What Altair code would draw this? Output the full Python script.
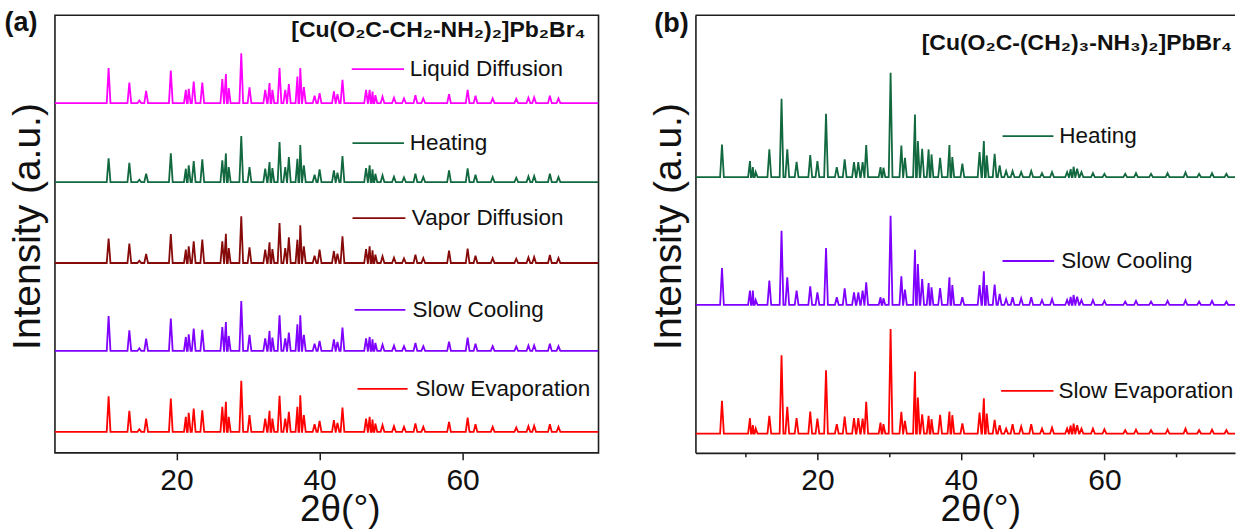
import altair as alt
import pandas as pd

# ---------------- data ----------------
# Panel (a): [Cu(O2C-CH2-NH2)2]Pb2Br4  -- peak positions (2theta, deg)
A_POS = [10.5, 13.4, 14.8, 15.75, 19.2, 21.3, 21.7, 22.4, 23.6, 26.4, 26.9, 27.3,
         29.05, 30.2, 32.4, 33.0, 33.4, 34.4, 35.2, 35.7, 36.9, 37.3, 37.8, 39.3,
         40.0, 42.0, 42.5, 43.2, 46.5, 47.0, 47.4, 47.8, 48.8, 50.4, 51.8, 53.4,
         54.5, 58.1, 60.7, 61.8, 64.2, 67.5, 69.2, 70.0, 72.2, 73.4]
A_SE = [107, 63, 8, 40, 100, 45, 57, 70, 65, 75, 90, 45, 153, 50, 40, 63, 40, 108, 40, 60, 75, 110, 50, 23,
        33, 35, 27, 73, 40, 45, 37, 25, 20, 17, 15, 25, 15, 30, 43, 23, 15, 13, 17, 18, 23, 15]
A_SC = [105, 62, 8, 37, 97, 42, 50, 67, 63, 72, 87, 45, 150, 48, 38, 60, 40, 107, 38, 55, 80, 107, 48, 22,
        30, 35, 27, 70, 38, 42, 35, 24, 19, 16, 14, 24, 14, 28, 40, 22, 14, 13, 16, 17, 22, 14]
A_VD = [73, 58, 7, 27, 87, 40, 50, 65, 70, 65, 88, 45, 140, 47, 40, 62, 42, 120, 45, 77, 70, 113, 50, 22,
        40, 36, 28, 80, 42, 50, 38, 25, 20, 16, 14, 25, 15, 37, 43, 22, 15, 13, 17, 18, 24, 15]
A_H = [71, 58, 7, 25, 86, 40, 50, 63, 68, 65, 86, 45, 138, 45, 40, 60, 42, 120, 45, 75, 70, 111, 50, 22,
       38, 35, 28, 78, 42, 50, 38, 25, 20, 16, 14, 25, 15, 35, 41, 22, 15, 13, 17, 18, 25, 15]
A_LD = [105, 62, 8, 37, 98, 40, 43, 65, 62, 72, 87, 45, 150, 47, 40, 60, 40, 105, 40, 57, 80, 105, 48, 22,
        30, 35, 27, 70, 40, 40, 35, 24, 19, 16, 14, 24, 14, 27, 40, 22, 14, 13, 16, 17, 22, 14]
A_SERIES = ["Slow Evaporation", "Slow Cooling", "Vapor Diffusion", "Heating", "Liquid Diffusion"]
A_HEIGHTS = [A_SE, A_SC, A_VD, A_H, A_LD]
A_OFFSET = [63, 306, 570, 813, 1050]

# Panel (b): [Cu(O2C-(CH2)3-NH3)2]PbBr4
B_POS = [6.7, 10.6, 11.0, 11.4, 13.3, 15.0, 15.8, 17.1, 19.0, 20.0, 21.2, 22.7, 23.8, 25.1,
         25.7, 26.3, 26.8, 28.8, 29.2, 30.2, 31.7, 32.2, 33.6, 34.0, 34.6, 35.5, 35.9, 37.1,
         38.4, 38.8, 40.2, 42.6, 43.2, 43.6, 44.7, 45.4, 46.3, 47.2, 48.4, 49.8, 51.3, 52.7,
         54.8, 55.3, 55.7, 56.2, 56.8, 58.4, 60.0, 62.9, 64.4, 66.5, 68.8, 71.3, 73.2, 75.0, 77.0]
B_SE = [98, 46, 25, 15, 53, 235, 80, 46, 66, 45, 190, 28, 51, 46, 46, 45, 95, 33, 28, 314, 65, 38, 186, 108,
        58, 53, 43, 56, 66, 55, 30, 63, 106, 60, 41, 25, 15, 28, 21, 28, 15, 18, 15, 24, 30, 25, 15, 15,
        13, 10, 12, 10, 12, 15, 10, 12, 10]
B_SC = [111, 43, 43, 15, 73, 223, 83, 43, 56, 38, 171, 23, 50, 38, 38, 43, 68, 23, 20, 268, 86, 46, 166, 123,
        78, 66, 53, 51, 83, 60, 23, 60, 101, 60, 61, 33, 18, 23, 20, 23, 15, 18, 15, 24, 30, 25, 15, 15,
        12, 10, 12, 10, 12, 14, 10, 12, 10]
B_H = [98, 48, 30, 15, 83, 235, 83, 46, 66, 48, 190, 30, 53, 45, 45, 45, 96, 30, 28, 313, 95, 58, 188, 108,
       85, 83, 68, 58, 96, 60, 40, 75, 108, 65, 70, 35, 18, 18, 15, 18, 12, 15, 15, 24, 31, 25, 15, 12,
       10, 10, 12, 10, 12, 14, 10, 12, 10]
B_SERIES = ["Slow Evaporation", "Slow Cooling", "Heating"]
B_HEIGHTS = [B_SE, B_SC, B_H]
B_OFFSET = [58, 444, 828]

COLOR_DOMAIN = ["Slow Evaporation", "Slow Cooling", "Vapor Diffusion", "Heating", "Liquid Diffusion"]
COLOR_RANGE = ["#ff0000", "#7f00ff", "#870a0a", "#12693f", "#ff00ff"]

# legend annotation anchors (data units)
A_LEG = [("Liquid Diffusion", 44.5, 51.8, 52.6, 1152), ("Heating", 44.6, 51.8, 52.6, 930),
         ("Vapor Diffusion", 44.6, 52.0, 52.9, 705), ("Slow Cooling", 44.9, 52.0, 53.0, 429),
         ("Slow Evaporation", 45.3, 52.3, 53.4, 192)]
B_LEG = [("Heating", 45.8, 52.9, 53.7, 951), ("Slow Cooling", 45.8, 53.0, 54.0, 576),
         ("Slow Evaporation", 45.6, 52.9, 53.6, 186)]

X_MIN = 3
A_XMAX, B_XMAX = 79, 78.2
Y_DOMAIN = [0, 1314]
HALF = 0.26

FONT = "Liberation Sans, Arial, sans-serif"
FRAME = "#1e1e1e"


def pattern_rows(series, positions, heights, offset, xmin, xmax):
    rows = [(series, xmin, offset), (series, xmax, offset)]
    for p, h in zip(positions, heights):
        rows.append((series, p - HALF, offset))
        rows.append((series, p, offset + h))
        rows.append((series, p + HALF, offset))
    return rows


def build_df(series_list, heights_list, offsets, positions, xmax):
    rows = []
    for s, hs, off in zip(series_list, heights_list, offsets):
        rows += pattern_rows(s, positions, hs, off, X_MIN, xmax)
    return pd.DataFrame(rows, columns=["series", "tt", "inten"])


dfa = build_df(A_SERIES, A_HEIGHTS, A_OFFSET, A_POS, A_XMAX)
dfb = build_df(B_SERIES, B_HEIGHTS, B_OFFSET, B_POS, B_XMAX)
lega = pd.DataFrame(A_LEG, columns=["series", "x1", "x2", "xt", "y"])
legb = pd.DataFrame(B_LEG, columns=["series", "x1", "x2", "xt", "y"])

color = alt.Color("series:N", scale=alt.Scale(domain=COLOR_DOMAIN, range=COLOR_RANGE), legend=None)
one = pd.DataFrame({"t": [0]})


def panel(df, leg, xmax, width, xaxis, yaxis, title, tag, title_xy, tag_xy, framed):
    x = alt.X("tt:Q", scale=alt.Scale(domain=[X_MIN, xmax], nice=False, zero=False), axis=xaxis)
    y = alt.Y("inten:Q", scale=alt.Scale(domain=Y_DOMAIN, nice=False, zero=False), axis=yaxis)
    lines = alt.Chart(df).mark_line(strokeWidth=1.8, clip=True).encode(x=x, y=y, color=color, detail="series:N")
    rules = alt.Chart(leg).mark_rule(strokeWidth=1.8).encode(
        x="x1:Q", x2="x2:Q", y="y:Q", color=color)
    texts = alt.Chart(leg).mark_text(align="left", baseline="middle", font=FONT, fontSize=22.5,
                                     color="#111").encode(x="xt:Q", y="y:Q", text="series:N")
    ttl = alt.Chart(pd.DataFrame({"t": [title]})).mark_text(
        align="right", baseline="middle", font=FONT, fontSize=23, fontWeight="bold", color="#111"
    ).encode(x=alt.value(title_xy[0]), y=alt.value(title_xy[1]), text="t:N")
    tg = alt.Chart(pd.DataFrame({"t": [tag]})).mark_text(
        align="center", baseline="middle", font=FONT, fontSize=27, fontWeight="bold", color="#111"
    ).encode(x=alt.value(tag_xy[0]), y=alt.value(tag_xy[1]), text="t:N")
    layers = [lines, rules, texts, ttl, tg]
    if framed:
        view = alt.ViewBackground(stroke=FRAME, strokeWidth=1.6)
        # invisible envelope marker fixing the outer left/top/bottom bounds of the figure
        env = alt.Chart(one).mark_rule(strokeOpacity=0, strokeWidth=1).encode(
            x=alt.value(-54), y=alt.value(-14), y2=alt.value(514))
        layers.append(env)
    else:
        top = alt.Chart(one).mark_rule(color=FRAME, strokeWidth=1.6).encode(
            x=alt.value(0), x2=alt.value(width), y=alt.value(0))
        layers.append(top)
        view = alt.ViewBackground(strokeOpacity=0)
    return alt.layer(*layers).properties(width=width, height=438, view=view)


common_x = dict(title="2θ(°)", grid=False, tickColor=FRAME, tickWidth=1.5,
                labelFont=FONT, labelFontSize=30, labelColor="#111", labelPadding=6,
                titleFont=FONT, titleFontSize=37, titleFontWeight="normal", titleColor="#111",
                titleX=285, titleY=57, titleBaseline="middle", titleAlign="center",
                domainColor=FRAME, domainWidth=1.6)
common_y = dict(title="Intensity (a.u.)", grid=False, labels=False, ticks=False,
                titleFont=FONT, titleFontSize=39, titleFontWeight="normal", titleColor="#111",
                titleAngle=270, titleX=-27, titleY=211, titleBaseline="middle", titleAlign="center",
                domainColor=FRAME, domainWidth=1.6)

xa = alt.Axis(values=[20, 40, 60], tickSize=7, domain=False, **common_x)
ya = alt.Axis(domain=False, **common_y)
xb = alt.Axis(values=[10, 20, 30, 40, 50, 60, 70],
              tickSize={"condition": {"test": "datum.value % 20 === 0", "value": 7}, "value": 4},
              labelExpr="datum.value % 20 === 0 ? datum.label : ''", domain=True, **common_x)
yb = alt.Axis(domain=True, **common_y)

pa = panel(dfa, lega, A_XMAX, 544, xa, ya, "[Cu(O₂C-CH₂-NH₂)₂]Pb₂Br₄", "(a)", (531, 15), (-34, 8), True)
pb = panel(dfb, legb, B_XMAX, 540, xb, yb, "[Cu(O₂C-(CH₂)₃-NH₃)₂]PbBr₄", "(b)", (537, 28), (-24, 9), False)

chart = alt.hconcat(pa, pb, spacing=97, bounds="flush").properties(
    padding={"left": 0, "top": 0, "right": 0, "bottom": 0},
    background="white",
)

chart.save("out.html", embed_options={"renderer": "svg", "actions": False})
